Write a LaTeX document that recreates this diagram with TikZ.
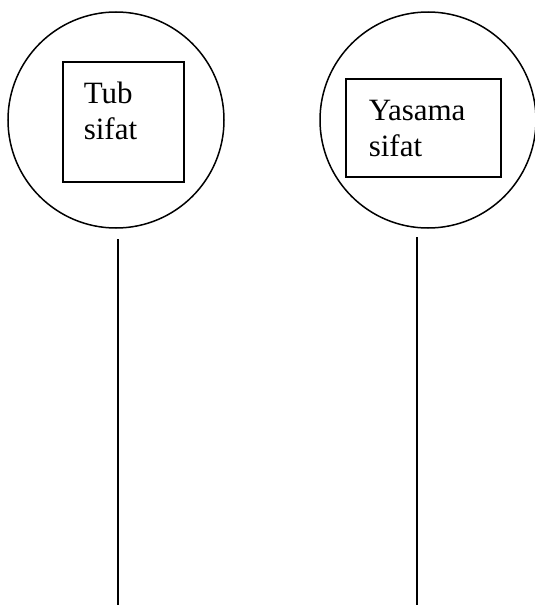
\documentclass[tikz,border=0pt]{standalone}
\usepackage{fontspec}
\setmainfont{Liberation Serif}
\usetikzlibrary{positioning}

\begin{document}
\begin{tikzpicture}[x=1pt, y=-1pt, line width=1.5pt,
  ring/.style={circle, draw, minimum size=216pt, inner sep=0pt},
  wordbox/.style={draw, inner sep=0pt},
  word/.style={anchor=north west, align=left, inner sep=0pt, font=\fontsize{31}{36}\selectfont}]
\useasboundingbox (0,0) rectangle (535,605);
\node[ring] (tubring) at (116,120) {};
\node[ring] (yasring) at (428,120) {};
\node[wordbox, minimum width=121pt, minimum height=120pt] (tubbox) at (123.5,122) {};
\node[wordbox, minimum width=155pt, minimum height=98pt] (yasbox) at (423.5,128) {};
\node[word] (tub) at (83,81) {Tub\\sifat};
\node[word] (yas) at (368,99) {Yasama\\sifat};
% stems below the rings
\coordinate (tubtop) at (118,239);
\coordinate (tubend) at (118,605);
\coordinate (yastop) at (417,237);
\coordinate (yasend) at (417,605);
\draw (tubtop) -- (tubend);
\draw (yastop) -- (yasend);
\end{tikzpicture}
\end{document}
